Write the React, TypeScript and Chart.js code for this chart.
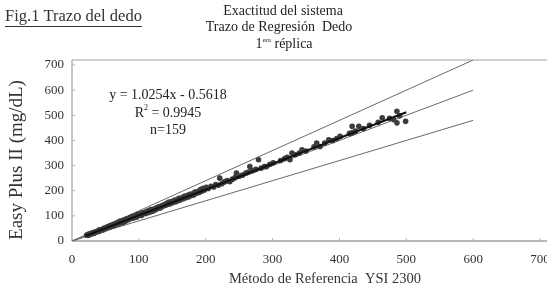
import React, { useEffect, useRef } from "react";
import { Chart, registerables } from "chart.js";
Chart.register(...registerables);

// Reference method (YSI 2300) values, mg/dL
const refValues = [
  22, 24, 25, 27, 28, 30, 31, 33, 35, 36, 38, 40, 41, 43, 45, 46, 48, 50, 52, 54, 55, 57, 58, 60, 62,
  64, 66, 68, 70, 71, 73, 75, 76, 78, 80, 82, 83, 85, 87, 88, 90, 92, 93, 95, 97, 98, 100, 102, 104, 105,
  107, 109, 110, 112, 114, 115, 117, 118, 120, 121,
  123, 125, 127, 129, 130, 132, 134, 136, 138, 140, 142, 144, 145, 147, 149, 151, 153, 155, 157, 159,
  160, 162, 164, 166, 168, 170, 172, 174, 176, 178, 180, 182, 184, 186, 188, 190, 192, 194, 196, 198,
  201, 204, 208, 212, 215, 219, 221, 224, 228, 232, 236, 240, 244, 246, 250, 255, 260, 264, 266, 270,
  275, 279, 283, 288, 291,
  296, 301, 312, 318, 322, 326, 329, 334, 340, 344, 350, 362, 366, 371, 378, 384, 390, 396, 401, 415,
  419, 419, 424, 429, 436, 445, 458, 464, 475, 481, 486, 486, 490, 499,
];
// Easy Plus II meter values, mg/dL
const meterValues = [
  24, 22, 28, 26, 30, 29, 34, 31, 37, 35, 40, 38, 45, 42, 47, 44, 52, 49, 55, 53, 58, 56, 62, 59, 66,
  63, 70, 72, 68, 78, 74, 80, 73, 84, 79, 88, 85, 86, 93, 90, 97, 91, 99, 100, 95, 106, 103, 108, 101, 112,
  110, 114, 109, 118, 113, 121, 116, 125, 122, 119,
  128, 124, 133, 130, 136, 131, 140, 138, 145, 142, 150, 146, 155, 148, 157, 153, 162, 156, 165, 160,
  170, 163, 172, 168, 178, 172, 181, 175, 186, 180, 188, 183, 195, 190, 197, 193, 205, 198, 210, 203,
  214, 209, 218, 215, 225, 222, 250, 228, 235, 240, 236, 246, 252, 270, 258, 262, 270, 274, 296, 280,
  285, 323, 290, 296, 296,
  305, 311, 320, 328, 333, 323, 350, 343, 350, 363, 358, 375, 390, 376, 390, 403, 400, 408, 416, 428,
  456, 430, 437, 456, 447, 460, 472, 490, 488, 483, 516, 470, 498, 476,
];

const xTicks = [0, 100, 200, 300, 400, 500, 600, 700];
const yTicks = [0, 100, 200, 300, 400, 500, 600, 700];

// Reference lines (endpoints)
const limitX = [0, 600];
const upperLimitY = [0, 720];
const identityY = [0, 600];
const lowerLimitY = [0, 480];
// Regression line endpoints
const regX = [20, 500];
const regY = [20, 512];

const titleLines = ["Exactitud del sistema", "Trazo de Regresión  Dedo"];
const figLabel = "Fig.1 Trazo del dedo";
const eqLines = ["y = 1.0254x - 0.5618", "R", "n=159"];
const xTitle = "Método de Referencia  YSI 2300";
const yTitle = "Easy Plus II (mg/dL)";

const SERIF = "'Liberation Serif', 'Times New Roman', serif";

export default function App() {
  const ref = useRef<HTMLCanvasElement>(null);
  useEffect(() => {
    const canvas = ref.current;
    if (!canvas) return;

    const decor = {
      id: "decor",
      beforeDatasetsDraw(chart: any) {
        const c = chart.ctx;
        const xs = chart.scales.x;
        const ys = chart.scales.y;
        const a = chart.chartArea;
        c.save();
        // top border
        c.strokeStyle = "#cfcfcf";
        c.lineWidth = 2;
        c.beginPath();
        c.moveTo(a.left, a.top);
        c.lineTo(547, a.top);
        c.stroke();
        // left axis
        c.strokeStyle = "#b5b5b5";
        c.lineWidth = 1.5;
        c.beginPath();
        c.moveTo(a.left, a.top);
        c.lineTo(a.left, a.bottom);
        c.stroke();
        // bottom axis
        c.strokeStyle = "#a0a0a0";
        c.beginPath();
        c.moveTo(a.left, a.bottom);
        c.lineTo(547, a.bottom);
        c.stroke();
        // ticks
        c.lineWidth = 1;
        c.strokeStyle = "#b0b0b0";
        xTicks.forEach((v) => {
          const px = xs.getPixelForValue(v);
          c.beginPath();
          c.moveTo(px, a.bottom);
          c.lineTo(px, a.bottom - 3);
          c.stroke();
        });
        yTicks.forEach((v) => {
          const py = ys.getPixelForValue(v);
          c.beginPath();
          c.moveTo(a.left, py);
          c.lineTo(a.left + 3, py);
          c.stroke();
        });
        // tick labels
        c.fillStyle = "#333";
        c.font = `13px ${SERIF}`;
        c.textAlign = "center";
        c.textBaseline = "middle";
        xTicks.forEach((v) => {
          c.fillText(String(v), xs.getPixelForValue(v), 260);
        });
        c.textAlign = "right";
        yTicks.forEach((v) => {
          c.fillText(String(v), 64, ys.getPixelForValue(v));
        });
        c.restore();
      },
      afterDraw(chart: any) {
        const c = chart.ctx;
        c.save();
        c.fillStyle = "#222";
        c.textBaseline = "middle";
        c.textAlign = "center";
        // Titles
        c.font = `14px ${SERIF}`;
        c.fillText(titleLines[0], 283, 11);
        c.fillText(titleLines[1], 279, 27);
        // 1era réplica
        const t1 = "1";
        const sup = "era";
        const t2 = " réplica";
        c.font = `14px ${SERIF}`;
        const w1 = c.measureText(t1).width;
        const w3 = c.measureText(t2).width;
        c.font = `7px ${SERIF}`;
        const w2 = c.measureText(sup).width;
        const x0 = 284 - (w1 + w2 + w3) / 2;
        c.textAlign = "left";
        c.font = `14px ${SERIF}`;
        c.fillText(t1, x0, 44);
        c.font = `7px ${SERIF}`;
        c.fillText(sup, x0 + w1, 40);
        c.font = `14px ${SERIF}`;
        c.fillText(t2, x0 + w1 + w2, 44);
        // Fig label
        c.fillStyle = "#333";
        c.font = `16.5px ${SERIF}`;
        c.textAlign = "left";
        c.fillText(figLabel, 5, 17);
        const fw = c.measureText(figLabel).width;
        c.strokeStyle = "#333";
        c.lineWidth = 1;
        c.beginPath();
        c.moveTo(5, 26.5);
        c.lineTo(5 + fw, 26.5);
        c.stroke();
        // Equation annotation
        c.fillStyle = "#222";
        c.font = `14px ${SERIF}`;
        c.textAlign = "center";
        c.fillText(eqLines[0], 168, 95);
        const rRest = " = 0.9945";
        const wr = c.measureText(eqLines[1]).width;
        const wrr = c.measureText(rRest).width;
        c.font = `8px ${SERIF}`;
        const w2s = c.measureText("2").width;
        const rx = 168 - (wr + w2s + wrr) / 2;
        c.textAlign = "left";
        c.font = `14px ${SERIF}`;
        c.fillText(eqLines[1], rx, 113);
        c.font = `8px ${SERIF}`;
        c.fillText("2", rx + wr, 108);
        c.font = `14px ${SERIF}`;
        c.fillText(rRest, rx + wr + w2s, 113);
        c.textAlign = "center";
        c.fillText(eqLines[2], 168, 130);
        // Axis titles
        c.fillStyle = "#333";
        c.font = `14.5px ${SERIF}`;
        c.fillText(xTitle, 325, 279);
        c.save();
        c.translate(17, 160);
        c.rotate(-Math.PI / 2);
        c.font = `19px ${SERIF}`;
        c.fillText(yTitle, 0, 0);
        c.restore();
        c.restore();
      },
    };

    const mkLine = (ys: number[], color: string, width: number) => ({
      type: "line" as const,
      data: limitX.map((x, i) => ({ x, y: ys[i] })),
      borderColor: color,
      borderWidth: width,
      pointRadius: 0,
      fill: false,
      showLine: true,
    });

    const chart = new Chart(canvas, {
      type: "scatter",
      data: {
        datasets: [
          {
            type: "scatter",
            data: refValues.map((x, i) => ({ x, y: meterValues[i] })),
            backgroundColor: "#3c3c3c",
            borderWidth: 0,
            pointRadius: 2.8,
            order: 2,
          } as any,
          { ...mkLine(upperLimitY, "#6a6a6a", 1), order: 3 } as any,
          { ...mkLine(identityY, "#6a6a6a", 1), order: 3 } as any,
          { ...mkLine(lowerLimitY, "#6a6a6a", 1), order: 3 } as any,
          {
            type: "line",
            data: regX.map((x, i) => ({ x, y: regY[i] })),
            borderColor: "#111",
            borderWidth: 2,
            pointRadius: 0,
            fill: false,
            order: 1,
          } as any,
        ],
      },
      options: {
        responsive: false,
        animation: false,
        devicePixelRatio: 1,
        layout: { padding: { left: 72, right: 7, top: 60, bottom: 47 } },
        plugins: {
          legend: { display: false },
          tooltip: { enabled: false },
          title: { display: false },
        },
        scales: {
          x: { type: "linear", min: 0, max: 700, display: false },
          y: { type: "linear", min: 0, max: 720, display: false },
        },
      },
      plugins: [decor],
    });
    return () => chart.destroy();
  }, []);

  return (
    <div style={{ position: "fixed", left: 0, top: 0, width: 547, height: 288, background: "#fff" }}>
      <canvas ref={ref} width={547} height={288} style={{ display: "block", width: 547, height: 288 }} />
    </div>
  );
}
